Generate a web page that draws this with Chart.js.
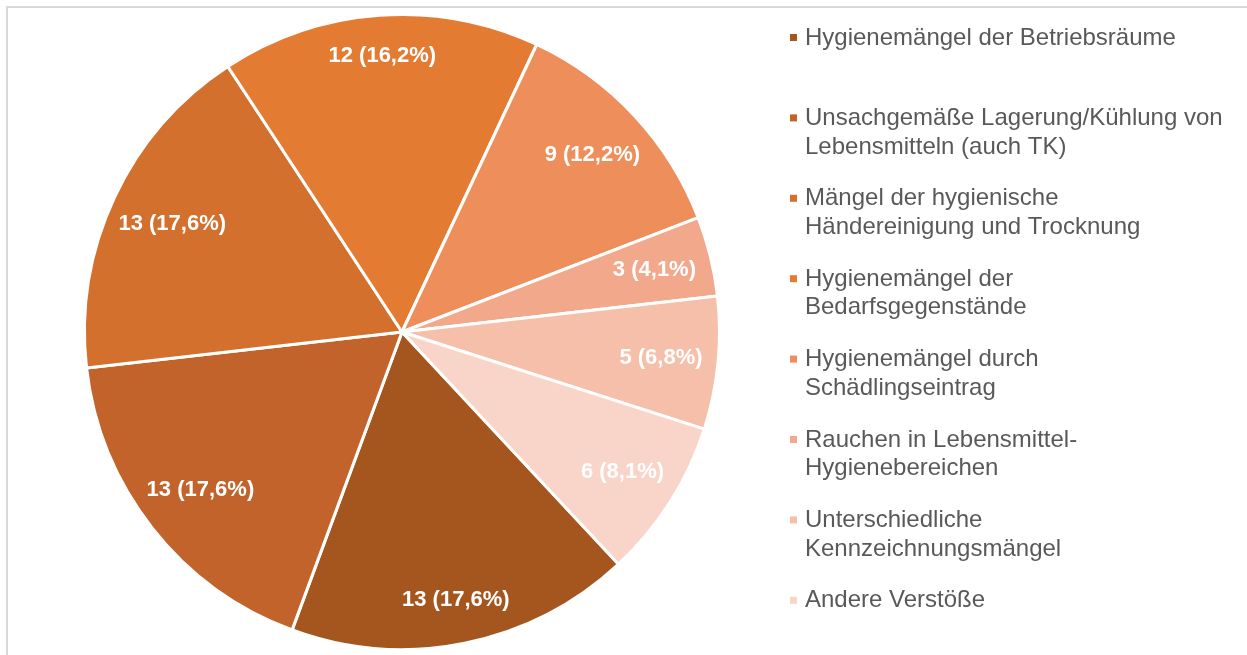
<!DOCTYPE html>
<html>
<head>
<meta charset="utf-8">
<script src="https://cdn.jsdelivr.net/npm/chart.js@4.4.0/dist/chart.umd.min.js"></script>
<style>
	html, body { margin: 0; padding: 0; background: #fff; }
	#wrap { position: relative; width: 1247px; height: 655px; }
</style>
</head>
<body>
<div id="wrap"><canvas id="chart" width="1247" height="655"></canvas></div>
<script>
"use strict";

// Data

var categories = [
	["Hygienemängel der Betriebsräume"],
	["Unsachgemäße Lagerung/Kühlung von", "Lebensmitteln (auch TK)"],
	["Mängel der hygienische", "Händereinigung und Trocknung"],
	["Hygienemängel der", "Bedarfsgegenstände"],
	["Hygienemängel durch", "Schädlingseintrag"],
	["Rauchen in Lebensmittel-", "Hygienebereichen"],
	["Unterschiedliche", "Kennzeichnungsmängel"],
	["Andere Verstöße"]
];
var counts = [13, 13, 13, 12, 9, 3, 5, 6];
var sliceColors = ["#A5561F", "#C1632A", "#D3702D", "#E47B32",
	"#EE8E5A", "#F2A98B", "#F5BFAA", "#F8D5C8"];

// Style

var FONT = "'Liberation Sans', Arial, sans-serif",
	TEXT_GREY = "#595959",
	FRAME_GREY = "#D9D9D9";

// formats "13 (17,6%)" with a German decimal comma
function valueLabel(value, total) {
	var pct = (value / total * 100).toFixed(1).replace(".", ",");
	return value + " (" + pct + "%)";
}

// frame line along the top and left edge
var framePlugin = {
	id: "frame",
	beforeDraw: function (chart) {
		var ctx = chart.ctx;
		ctx.save();
		ctx.strokeStyle = FRAME_GREY;
		ctx.lineWidth = 2;
		ctx.beginPath();
		ctx.moveTo(7, chart.height);
		ctx.lineTo(7, 7);
		ctx.lineTo(chart.width, 7);
		ctx.stroke();
		ctx.restore();
	}
};

// white bold labels placed near the outer edge of each slice
var sliceLabelPlugin = {
	id: "sliceLabels",
	afterDatasetsDraw: function (chart) {
		var ctx = chart.ctx,
			meta = chart.getDatasetMeta(0),
			data = chart.data.datasets[0].data,
			total = data.reduce(function (a, b) { return a + b; }, 0);

		ctx.save();
		ctx.font = "bold 22px " + FONT;
		ctx.fillStyle = "#fff";
		ctx.textAlign = "center";
		ctx.textBaseline = "middle";
		meta.data.forEach(function (arc, i) {
			var p = arc.getProps(["x", "y", "startAngle", "endAngle", "outerRadius"], true),
				mid = (p.startAngle + p.endAngle) / 2,
				text = valueLabel(data[i], total),
				hw = ctx.measureText(text).width / 2,
				hh = 11,
				extent = hw * Math.abs(Math.cos(mid)) + hh * Math.abs(Math.sin(mid)),
				dist = p.outerRadius * 0.9 - 0.6 * extent;
			ctx.fillText(text, p.x + Math.cos(mid) * dist, p.y + Math.sin(mid) * dist);
		});
		ctx.restore();
	}
};

// legend with wrapped entries, one fixed slot per entry
var sideLegendPlugin = {
	id: "sideLegend",
	afterDraw: function (chart) {
		var ctx = chart.ctx,
			labels = chart.data.labels,
			colors = chart.data.datasets[0].backgroundColor,
			x0 = 790, textX = 805, y0 = 38, slot = 80.4, lineH = 28.5;

		ctx.save();
		ctx.font = "24px " + FONT;
		ctx.textBaseline = "middle";
		ctx.textAlign = "left";
		labels.forEach(function (lines, i) {
			var y = y0 + i * slot;
			ctx.fillStyle = colors[i];
			ctx.fillRect(x0, y - 4, 7, 7);
			ctx.fillStyle = TEXT_GREY;
			lines.forEach(function (line, j) {
				ctx.fillText(line, textX, y + j * lineH);
			});
		});
		ctx.restore();
	}
};

new Chart(document.getElementById("chart"), {
	type: "pie",
	data: {
		labels: categories,
		datasets: [{
			data: counts,
			backgroundColor: sliceColors,
			borderColor: "#fff",
			borderWidth: 3
		}]
	},
	options: {
		responsive: false,
		animation: false,
		rotation: 137,
		layout: { padding: { left: 83, top: 13, right: 526, bottom: 4 } },
		plugins: {
			legend: { display: false },
			tooltip: { enabled: false }
		}
	},
	plugins: [framePlugin, sliceLabelPlugin, sideLegendPlugin]
});
</script>
</body>
</html>
